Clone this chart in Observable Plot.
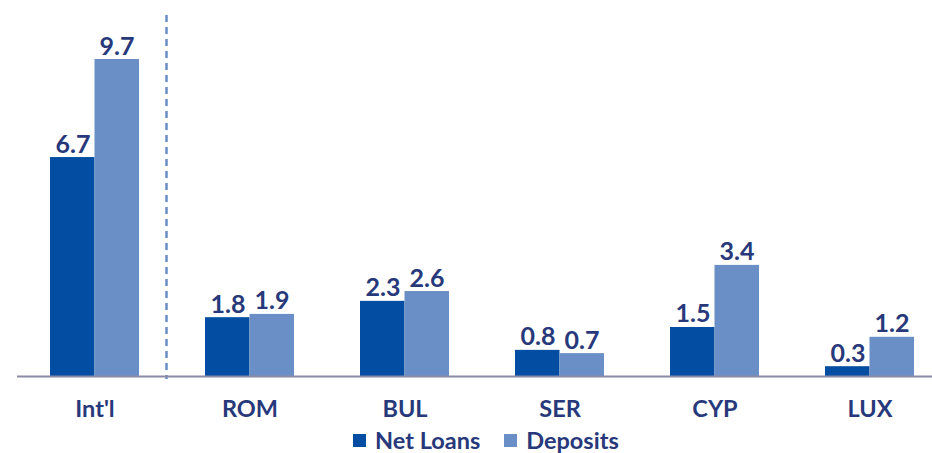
<!DOCTYPE html>
<html><head><meta charset="utf-8">
<script src="https://cdn.jsdelivr.net/npm/d3@7"></script>
<script src="https://cdn.jsdelivr.net/npm/@observablehq/plot@0.6"></script>
<style>
body{margin:0;background:#fff;font-family:Lato,"Open Sans",sans-serif;}
#legend{display:flex;align-items:center;margin-left:353px;height:30px;font-size:23.5px;font-weight:bold;color:#27397a;}
#legend .sw{width:13px;height:13px;display:inline-block;margin-right:9px;}
#legend .it{display:flex;align-items:center;margin-right:24px;}
</style></head>
<body><div id="chart"></div>
<div id="legend"></div>
<script>
const categories = ["Int'l","ROM","BUL","SER","CYP","LUX"];
const netLoans = [6.7,1.8,2.3,0.8,1.5,0.3];
const deposits = [9.7,1.9,2.6,0.7,3.4,1.2];
const seriesNames = ["Net Loans","Deposits"];
const colors = ["#034ea2","#6a8fc6"];
const textColor = "#27397a";

const loanRows = categories.map((c,i)=>({cat:c,v:netLoans[i]}));
const depRows = categories.map((c,i)=>({cat:c,v:deposits[i]}));
const half = 44.5;

const plot = Plot.plot({
  width: 932, height: 425,
  marginLeft: 17, marginRight: 0, marginTop: 15, marginBottom: 46,
  style:{fontFamily:"Lato, 'Open Sans', sans-serif", background:"#fff"},
  x:{domain:categories, range:[50,914], paddingInner:0.426, paddingOuter:0, label:null},
  y:{domain:[0,9.7], range:[376,59], axis:null},
  marks:[
    Plot.barY(loanRows,{x:"cat", y:"v", fill:colors[0], insetRight:half}),
    Plot.barY(depRows,{x:"cat", y:"v", fill:colors[1], insetLeft:half}),
    Plot.ruleX([categories[0]],{x:d=>d, dx:71.5, stroke:"#6a8fc6", strokeWidth:2.5, strokeDasharray:"7,5"}),
    Plot.ruleY([0],{stroke:"#8b8aa6", strokeWidth:2}),
    Plot.text(loanRows,{x:"cat", y:"v", text:d=>d.v.toFixed(1), dx:-22, dy:-5, lineAnchor:"bottom", fill:textColor, fontSize:25, fontWeight:"bold"}),
    Plot.text(depRows,{x:"cat", y:"v", text:d=>d.v.toFixed(1), dx:22, dy:-5, lineAnchor:"bottom", fill:textColor, fontSize:25, fontWeight:"bold"}),
    Plot.axisX({tickSize:0, tickPadding:21, fontSize:23.5, fontWeight:"bold", fill:textColor, label:null})
  ]
});
document.getElementById("chart").append(plot);
const lg = document.getElementById("legend");
seriesNames.forEach((n,i)=>{
  const it=document.createElement("span"); it.className="it";
  const sw=document.createElement("span"); sw.className="sw"; sw.style.background=colors[i];
  it.append(sw, document.createTextNode(n)); lg.append(it);
});
</script></body></html>
